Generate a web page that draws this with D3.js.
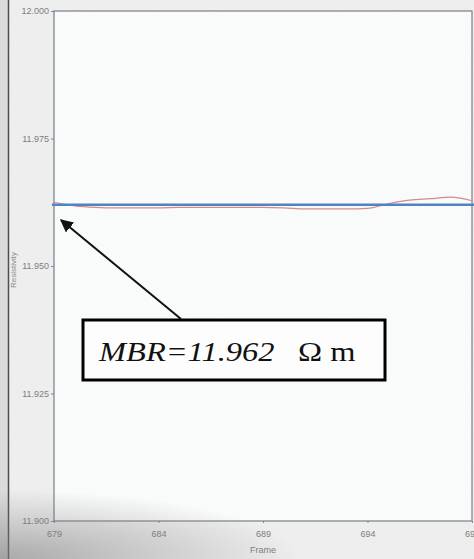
<!DOCTYPE html>
<html>
<head>
<meta charset="utf-8">
<script src="https://cdn.jsdelivr.net/npm/d3@7/dist/d3.min.js"></script>
<style>
  html, body { margin: 0; padding: 0; background: #ededed; }
  svg { display: block; }
</style>
</head>
<body>
<svg id="chart" width="474" height="559"></svg>
<script>
// Resistivity trace over frames 679–699, with the mean background resistivity (MBR) line
const frames = [679, 680, 681, 682, 683, 684, 685, 686, 687, 688, 689,
                690, 691, 692, 693, 694, 695, 696, 697, 698, 699];
const resistivity = [11.9625, 11.9618, 11.9615, 11.9614, 11.9614, 11.9614, 11.9615,
                     11.9615, 11.9615, 11.9615, 11.9615, 11.9614, 11.9612, 11.9612,
                     11.9612, 11.9613, 11.9622, 11.9629, 11.9632, 11.9635, 11.9628];
const mbr = 11.962;
const xTicks = [679, 684, 689, 694, 699];
const yTicks = [11.900, 11.925, 11.950, 11.975, 12.000];
const annotation = { main: "MBR=11.962", unit: "Ω m" };

const W = 474, H = 559;
const svg = d3.select("#chart");
const defs = svg.append("defs");

// soft shading along the bottom edge, darkest in the lower-left corner
const grad = defs.append("radialGradient").attr("id", "shade")
  .attr("cx", "0%").attr("cy", "100%").attr("r", "100%");
grad.append("stop").attr("offset", "0%").attr("stop-color", "#7a7a7a").attr("stop-opacity", 0.6);
grad.append("stop").attr("offset", "100%").attr("stop-color", "#7a7a7a").attr("stop-opacity", 0);

// fine grain
const grain = defs.append("filter").attr("id", "grain").attr("x", 0).attr("y", 0)
  .attr("width", "100%").attr("height", "100%");
grain.append("feTurbulence").attr("type", "fractalNoise").attr("baseFrequency", 0.9)
  .attr("numOctaves", 2).attr("seed", 3).attr("result", "n");
grain.append("feColorMatrix").attr("type", "matrix")
  .attr("values", "0 0 0 0 0.5  0 0 0 0 0.52  0 0 0 0 0.55  0 0 0 0.06 0");

const arrowMarker = defs.append("marker").attr("id", "head")
  .attr("viewBox", "0 0 10 10").attr("refX", 9).attr("refY", 5)
  .attr("markerWidth", 6.5).attr("markerHeight", 6.5)
  .attr("markerUnits", "strokeWidth").attr("orient", "auto");
arrowMarker.append("path").attr("d", "M0,0 L10,5 L0,10 Z").attr("fill", "#111");

const x = d3.scaleLinear().domain([679, 699]).range([54, 472]);
const y = d3.scaleLinear().domain([11.9, 12.0]).range([521, 11]);

// backgrounds
svg.append("rect").attr("width", W).attr("height", H).attr("fill", "#efefef");
svg.append("rect").attr("x", 0).attr("width", 8).attr("height", H).attr("fill", "#dcdcdc");
svg.append("line").attr("x1", 8.5).attr("x2", 8.5).attr("y1", 0).attr("y2", H)
  .attr("stroke", "#4a4a4a").attr("stroke-width", 1.5);
svg.append("rect")
  .attr("x", x.range()[0]).attr("y", y.range()[1])
  .attr("width", x.range()[1] - x.range()[0]).attr("height", y.range()[0] - y.range()[1])
  .attr("fill", "#fbfcfc");

// axes
const fmt = d3.format(".3f");
const yAxis = svg.append("g").attr("transform", `translate(${x.range()[0]},0)`)
  .call(d3.axisLeft(y).tickValues(yTicks).tickFormat(fmt).tickSize(3).tickPadding(2));
const xAxis = svg.append("g").attr("transform", `translate(0,${y.range()[0]})`)
  .call(d3.axisBottom(x).tickValues(xTicks).tickFormat(d3.format("d")).tickSize(2).tickPadding(8));
[yAxis, xAxis].forEach(g => {
  g.select(".domain").remove();
  g.selectAll(".tick line").attr("stroke", "#888");
  g.selectAll(".tick text").attr("fill", "#7c7c7c")
    .style("font-family", "'Liberation Sans', Arial, sans-serif").style("font-size", "9px");
});

// plot frame
svg.append("rect")
  .attr("x", x.range()[0]).attr("y", y.range()[1])
  .attr("width", x.range()[1] - x.range()[0]).attr("height", y.range()[0] - y.range()[1])
  .attr("fill", "none").attr("stroke", "#7a7a86").attr("stroke-width", 1.2);

// axis titles
svg.append("text").attr("x", 263).attr("y", 553).attr("text-anchor", "middle")
  .attr("fill", "#7c7c7c").style("font-family", "'Liberation Sans', Arial, sans-serif")
  .style("font-size", "9px").text("Frame");
svg.append("text").attr("transform", "translate(16,270) rotate(-90)").attr("text-anchor", "middle")
  .attr("fill", "#8a8a8a").style("font-family", "'Liberation Sans', Arial, sans-serif")
  .style("font-size", "8px").text("Resistivity");

// resistivity trace
svg.append("path").datum(frames.map((f, i) => [f, resistivity[i]]))
  .attr("d", d3.line().x(d => x(d[0])).y(d => y(d[1])).curve(d3.curveMonotoneX))
  .attr("fill", "none").attr("stroke", "#cf8a8a").attr("stroke-width", 1.2);

// MBR reference line
svg.append("line")
  .attr("x1", x.range()[0] - 2).attr("x2", W)
  .attr("y1", y(mbr)).attr("y2", y(mbr))
  .attr("stroke", "#4f80c0").attr("stroke-width", 2.6);

// grain and bottom shading
svg.append("rect").attr("x", 0).attr("y", 490).attr("width", 300).attr("height", 69)
  .attr("fill", "url(#shade)");
svg.append("rect").attr("width", W).attr("height", H).attr("filter", "url(#grain)")
  .style("pointer-events", "none");

// annotation arrow and box
svg.append("line").attr("x1", 181).attr("y1", 319).attr("x2", 61).attr("y2", 220)
  .attr("stroke", "#111").attr("stroke-width", 2).attr("marker-end", "url(#head)");
svg.append("rect").attr("x", 83).attr("y", 320).attr("width", 302).attr("height", 60)
  .attr("fill", "#fdfdfd").attr("stroke", "#000").attr("stroke-width", 3);
const label = svg.append("g").attr("transform", "translate(99,361) scale(1.16,1)");
label.append("text").attr("x", 0).attr("y", 0)
  .style("font-family", "'Liberation Serif', 'Times New Roman', serif").style("font-size", "28px")
  .style("font-style", "italic").attr("fill", "#111").text(annotation.main);
label.append("text").attr("x", (298 - 99) / 1.16).attr("y", 0)
  .style("font-family", "'Liberation Serif', 'Times New Roman', serif").style("font-size", "28px")
  .attr("fill", "#111").text(annotation.unit);
</script>
</body>
</html>
